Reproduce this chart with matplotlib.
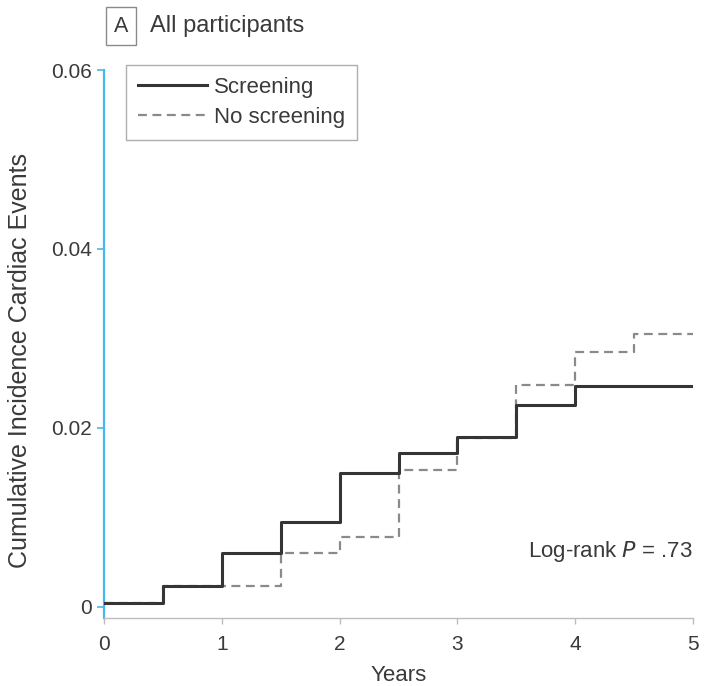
import matplotlib
matplotlib.use("Agg")
import matplotlib.pyplot as plt

plt.rcParams['font.family'] = ['Liberation Sans', 'DejaVu Sans']

# cumulative incidence, one value per half-year step
years = [0, 0.5, 1, 1.5, 2, 2.5, 3, 3.5, 4, 4.5, 5]
screening = [0.0004, 0.0023, 0.0060, 0.0095, 0.0150, 0.0172, 0.0190, 0.0226, 0.0247, 0.0247, 0.0247]
no_screening = [0.0004, 0.0023, 0.0023, 0.0060, 0.0078, 0.0153, 0.0189, 0.0248, 0.0285, 0.0305, 0.0305]
y_ticks = [0, 0.02, 0.04, 0.06]
y_tick_labels = ["0", "0.02", "0.04", "0.06"]
x_ticks = [0, 1, 2, 3, 4, 5]

text_col = "#3a3a3a"
blue = "#45b8ef"

fig = plt.figure(figsize=(7.1, 6.86), dpi=100)
ax = fig.add_axes([104 / 710, 1 - 618 / 686, (693 - 104) / 710, (618 - 70) / 686])

ax.step(years, no_screening, where="post", color="#8a8a8a", lw=1.6,
        linestyle=(0, (4, 2.5)), label="No screening", zorder=2)
ax.step(years, screening, where="post", color="#353535", lw=2.2,
        label="Screening", zorder=3)

ax.set_xlim(0, 5)
ax.set_ylim(-0.00123, 0.06)
ax.set_xticks(x_ticks)
ax.set_yticks(y_ticks)
ax.set_yticklabels(y_tick_labels)

for s in ["top", "right"]:
    ax.spines[s].set_visible(False)
ax.spines["left"].set_color(blue)
ax.spines["left"].set_linewidth(1.6)
ax.spines["bottom"].set_color("#bdbdbd")
ax.spines["bottom"].set_linewidth(1.0)
ax.tick_params(axis="y", colors=blue, length=5, width=1.2, pad=4, labelsize=15, labelcolor=text_col)
ax.tick_params(axis="x", colors="#bdbdbd", length=4, width=1.0, pad=8, labelsize=15, labelcolor=text_col)

ax.set_xlabel("Years", fontsize=16, color=text_col, labelpad=8)
ax.set_ylabel("Cumulative Incidence Cardiac Events", fontsize=18, color=text_col)
ax.yaxis.set_label_coords(-0.122, 0.47)

ax.text(5, 0.0062, r"Log-rank $\mathit{P}$ = .73", ha="right", va="center",
        fontsize=16, color=text_col)

handles, labels = ax.get_legend_handles_labels()
leg = ax.legend(handles[::-1], labels[::-1], loc="upper left",
                bbox_to_anchor=(126 / 710, 1 - 65 / 686), bbox_transform=fig.transFigure,
                fontsize=16, frameon=True, fancybox=False, handlelength=3.1,
                handletextpad=0.3, labelspacing=0.4, borderpad=0.55, borderaxespad=0)
leg.get_frame().set_edgecolor("#9a9a9a")
leg.get_frame().set_linewidth(1.0)
for t in leg.get_texts():
    t.set_color(text_col)

fig.text(121 / 710, 1 - 26 / 686, "A", ha="center", va="center", fontsize=15.5, color=text_col,
         bbox=dict(boxstyle="square,pad=0.38", fc="white", ec="#8a8a8a", lw=1.0))
fig.text(150 / 710, 1 - 26 / 686, "All participants", ha="left", va="center",
         fontsize=17, color=text_col)

fig.savefig("out.png", dpi=100)
